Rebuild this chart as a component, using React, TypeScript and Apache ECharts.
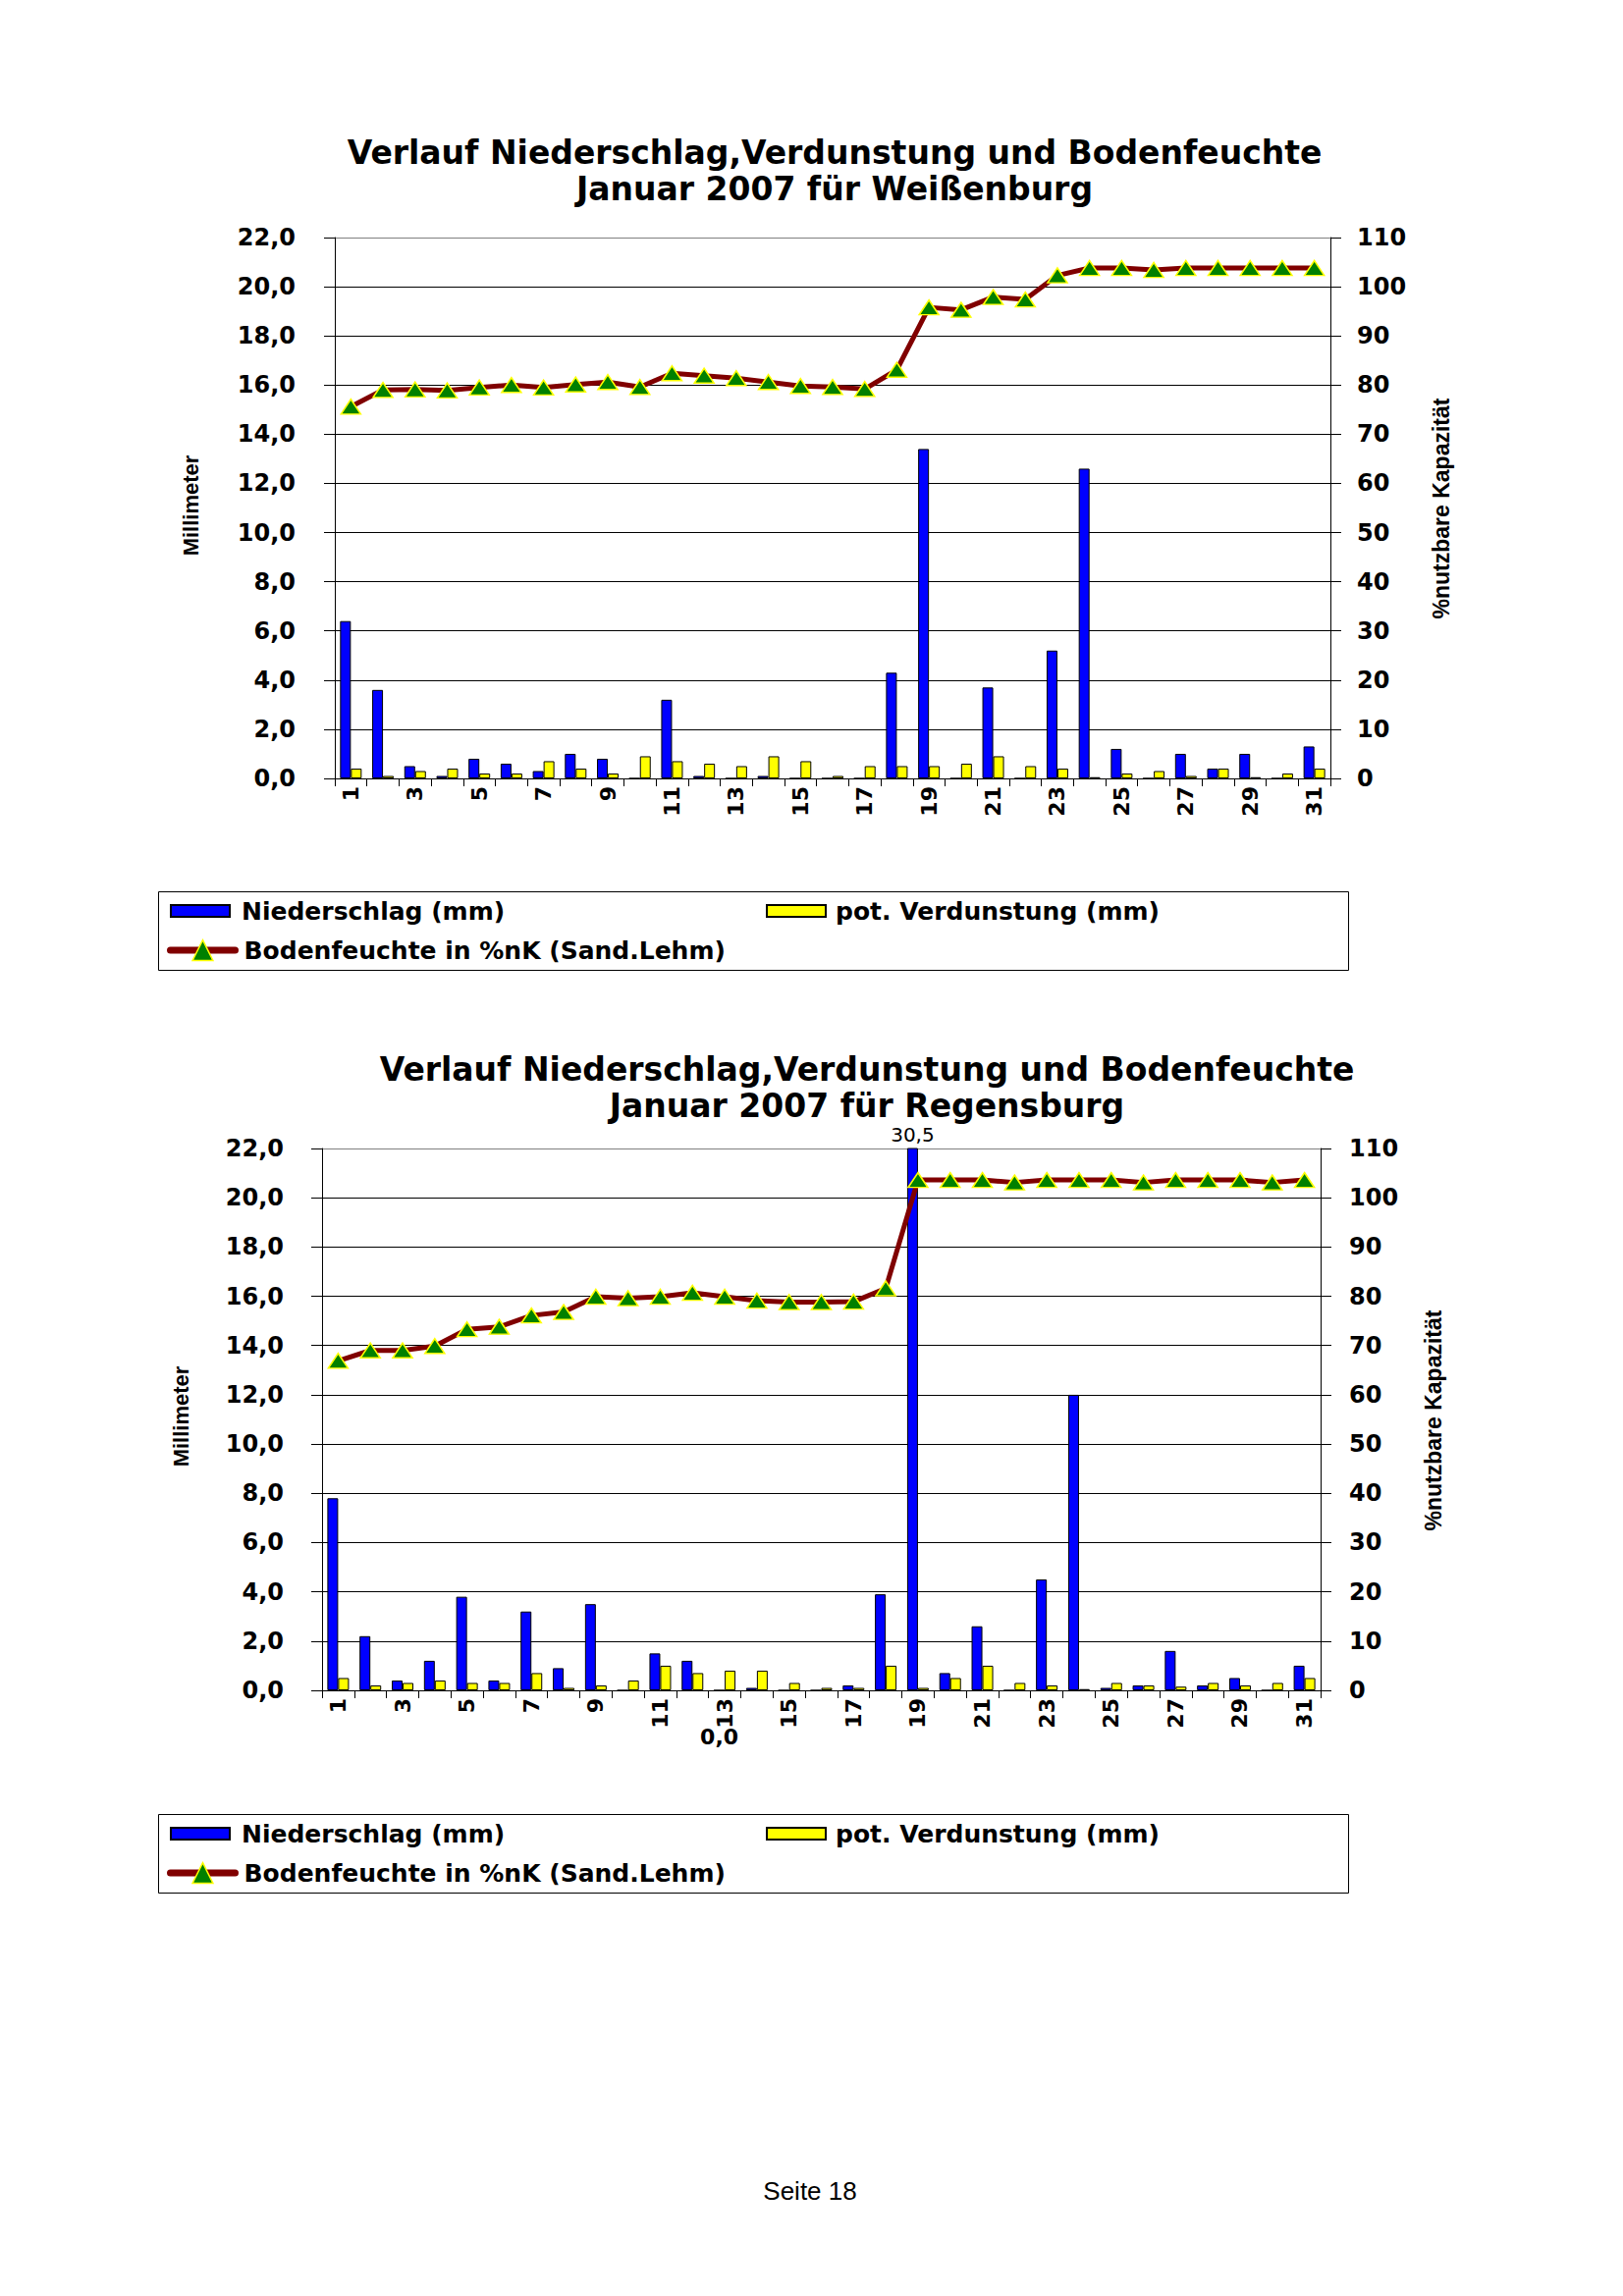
import React, { useEffect, useRef } from 'react';
import * as echarts from 'echarts';

// ---------- data ----------
const days = ['1', '2', '3', '4', '5', '6', '7', '8', '9', '10', '11', '12', '13', '14', '15', '16',
  '17', '18', '19', '20', '21', '22', '23', '24', '25', '26', '27', '28', '29', '30', '31'];

// Weißenburg
const wbgPrecip = [6.4, 3.6, 0.5, 0.1, 0.8, 0.6, 0.3, 1.0, 0.8, 0, 3.2, 0.1, 0, 0.1, 0, 0,
  0, 4.3, 13.4, 0, 3.7, 0, 5.2, 12.6, 1.2, 0, 1.0, 0.4, 1.0, 0, 1.3];
const wbgEvap = [0.4, 0.1, 0.3, 0.4, 0.2, 0.2, 0.7, 0.4, 0.2, 0.9, 0.7, 0.6, 0.5, 0.9, 0.7, 0.1,
  0.5, 0.5, 0.5, 0.6, 0.9, 0.5, 0.4, 0.05, 0.2, 0.3, 0.1, 0.4, 0.05, 0.2, 0.4];
const wbgMoist = [75.6, 79.0, 79.1, 78.9, 79.5, 80.0, 79.5, 80.1, 80.6, 79.6, 82.4, 81.9, 81.4, 80.6,
  79.8, 79.6, 79.2, 83.1, 95.8, 95.3, 97.9, 97.4, 102.3, 103.8, 103.8, 103.4, 103.8, 103.8, 103.8,
  103.8, 103.8];
const wbgZeroLabelDays: string[] = [];

// Regensburg
const rgbPrecip = [7.8, 2.2, 0.4, 1.2, 3.8, 0.4, 3.2, 0.9, 3.5, 0, 1.5, 1.2, 0, 0.1, 0, 0,
  0.2, 3.9, 30.5, 0.7, 2.6, 0, 4.5, 12.0, 0.1, 0.2, 1.6, 0.2, 0.5, 0, 1.0];
const rgbEvap = [0.5, 0.2, 0.3, 0.4, 0.3, 0.3, 0.7, 0.1, 0.2, 0.4, 1.0, 0.7, 0.8, 0.8, 0.3, 0.1,
  0.1, 1.0, 0.1, 0.5, 1.0, 0.3, 0.2, 0.05, 0.3, 0.2, 0.15, 0.3, 0.2, 0.3, 0.5];
const rgbMoist = [66.9, 69.0, 69.0, 69.9, 73.3, 73.8, 76.1, 76.8, 79.9, 79.6, 79.9, 80.7, 79.9, 79.1,
  78.8, 78.8, 78.9, 81.6, 103.6, 103.6, 103.6, 103.1, 103.6, 103.6, 103.6, 103.1, 103.6, 103.6, 103.6,
  103.1, 103.6];
const rgbZeroLabelDays = ['13'];

const mmAxis = { min: 0, max: 22, interval: 2 };
const pctAxis = { min: 0, max: 110, interval: 10 };

const titleWbg = 'Verlauf Niederschlag,Verdunstung und Bodenfeuchte\nJanuar 2007 für Weißenburg';
const titleRgb = 'Verlauf Niederschlag,Verdunstung und Bodenfeuchte\nJanuar 2007 für Regensburg';
const nameP = 'Niederschlag (mm)';
const nameE = 'pot. Verdunstung (mm)';
const nameM = 'Bodenfeuchte in %nK (Sand.Lehm)';
const leftAxisName = 'Millimeter';
const rightAxisName = '%nutzbare Kapazität';
const pageLabel = 'Seite 18';

// ---------- styling / layout ----------
const WIDE = 'DejaVu Sans';
const ARIAL = 'Liberation Sans';
const fmt = (v: number) => v.toFixed(1).replace('.', ',');

const panels = [
  {
    title: titleWbg, titleX: 850, titleY: 137,
    grid: { left: 341, top: 242, width: 1014, height: 551 },
    precip: wbgPrecip, evap: wbgEvap, moist: wbgMoist, zeroLabels: wbgZeroLabelDays,
    mL: 40, mR: 27, nameL: [194, 515], nameR: [1468, 518], legendTop: 909,
  },
  {
    title: titleRgb, titleX: 883, titleY: 1071,
    grid: { left: 328, top: 1170, width: 1017, height: 552 },
    precip: rgbPrecip, evap: rgbEvap, moist: rgbMoist, zeroLabels: rgbZeroLabelDays,
    mL: 39, mR: 29, nameL: [184, 1443], nameR: [1460, 1447], legendTop: 1849,
  },
];

function buildOption() {
  const grid: any[] = [];
  const xAxis: any[] = [];
  const yAxis: any[] = [];
  const series: any[] = [];
  const legend: any[] = [];
  const title: any[] = [];
  const graphic: any[] = [];

  const splitColors: string[] = [];
  const nLines = Math.round((mmAxis.max - mmAxis.min) / mmAxis.interval) + 1;
  for (let k = 0; k < nLines; k++) splitColors.push(k === nLines - 1 ? '#808080' : '#000000');

  const legendText = (padLeft: number) => ({
    fontFamily: WIDE, fontWeight: 'bold', fontSize: 25, lineHeight: 28,
    color: '#000', padding: [0, 0, 0, padLeft],
  });

  panels.forEach((p, i) => {
    title.push({
      text: p.title, left: p.titleX, top: p.titleY, textAlign: 'center', padding: 0,
      textStyle: { fontFamily: WIDE, fontWeight: 'bold', fontSize: 33, lineHeight: 37, color: '#000' },
    });

    grid.push({ ...p.grid, show: false, containLabel: false, outerBoundsMode: 'none' });

    xAxis.push({
      type: 'category', gridIndex: i, data: days, boundaryGap: true,
      axisLine: { show: true, onZero: false, lineStyle: { color: '#000', width: 1 } },
      axisTick: { show: true, interval: 0, length: 8, lineStyle: { color: '#000', width: 1 } },
      axisLabel: {
        show: true, interval: 1, rotate: 90, margin: 8, color: '#000',
        fontFamily: WIDE, fontWeight: 'bold', fontSize: 22,
      },
      splitLine: { show: false },
    });

    yAxis.push({
      type: 'value', gridIndex: i, position: 'left', ...mmAxis,
      axisLine: { show: true, lineStyle: { color: '#000', width: 1 } },
      axisTick: { show: true, length: 11, lineStyle: { color: '#000', width: 1 } },
      axisLabel: {
        margin: p.mL, color: '#000', fontFamily: WIDE, fontWeight: 'bold', fontSize: 24,
        formatter: (v: number) => fmt(v),
      },
      splitLine: { show: true, lineStyle: { color: splitColors, width: 1 } },
    });
    yAxis.push({
      type: 'value', gridIndex: i, position: 'right', ...pctAxis,
      axisLine: { show: true, lineStyle: { color: '#000', width: 1 } },
      axisTick: { show: true, length: 11, lineStyle: { color: '#000', width: 1 } },
      axisLabel: {
        margin: p.mR, color: '#000', fontFamily: WIDE, fontWeight: 'bold', fontSize: 24,
      },
      splitLine: { show: false },
    });

    const precipData = p.precip.map((v, d) => {
      if (v > mmAxis.max) {
        return {
          value: v,
          label: {
            show: true, position: 'top', distance: 4, formatter: fmt(v),
            fontFamily: WIDE, fontSize: 20, color: '#000',
          },
        };
      }
      if (p.zeroLabels.includes(days[d])) {
        return {
          value: v,
          label: {
            show: true, position: 'bottom', distance: 36, formatter: fmt(v),
            fontFamily: WIDE, fontWeight: 'bold', fontSize: 22, color: '#000',
          },
        };
      }
      return v;
    });

    series.push({
      type: 'bar', name: nameP, xAxisIndex: i, yAxisIndex: 2 * i, data: precipData,
      barWidth: 11, barGap: '0%', clip: true,
      itemStyle: { color: '#0000FF', borderColor: '#000000', borderWidth: 1 },
      emphasis: { disabled: true },
    });
    series.push({
      type: 'bar', name: nameE, xAxisIndex: i, yAxisIndex: 2 * i, data: p.evap,
      barWidth: 11, barGap: '0%', clip: true,
      itemStyle: { color: '#FFFF00', borderColor: '#000000', borderWidth: 1 },
      emphasis: { disabled: true },
    });
    series.push({
      type: 'line', name: nameM, xAxisIndex: i, yAxisIndex: 2 * i + 1, data: p.moist,
      z: 5, symbol: 'triangle', symbolSize: [20, 15], showSymbol: true, showAllSymbol: true,
      lineStyle: { color: '#800000', width: 5, join: 'round', cap: 'round' },
      itemStyle: { color: '#008000', borderColor: '#FFFF00', borderWidth: 1.5 },
      emphasis: { disabled: true },
    });

    const lt = p.legendTop;
    legend.push({
      data: [nameP], left: 173, top: lt + 19 - 14, padding: 0, icon: 'rect',
      itemWidth: 60, itemHeight: 12, selectedMode: false, textStyle: legendText(7),
    });
    legend.push({
      data: [nameE], left: 780, top: lt + 19 - 14, padding: 0, icon: 'rect',
      itemWidth: 60, itemHeight: 12, selectedMode: false, textStyle: legendText(5),
    });
    legend.push({
      data: [nameM], left: 170, top: lt + 59 - 14, padding: 0,
      itemWidth: 66, itemHeight: 26, selectedMode: false, textStyle: legendText(4),
      lineStyle: { width: 7, color: '#800000', cap: 'round' },
      itemStyle: { color: '#008000', borderColor: '#FFFF00', borderWidth: 1.5 },
    });

    graphic.push({
      type: 'rect', silent: true,
      shape: { x: 161.5, y: lt - 0.5, width: 1212, height: 80 },
      style: { fill: 'none', stroke: '#000', lineWidth: 1 },
    });
    graphic.push({
      type: 'text', x: p.nameL[0], y: p.nameL[1], rotation: Math.PI / 2, silent: true,
      style: {
        text: leftAxisName, fontFamily: ARIAL, fontWeight: 'bold', fontSize: 22, fill: '#000',
        align: 'center', verticalAlign: 'middle', textAlign: 'center', textVerticalAlign: 'middle',
      },
    });
    graphic.push({
      type: 'text', x: p.nameR[0], y: p.nameR[1], rotation: Math.PI / 2, silent: true,
      style: {
        text: rightAxisName, fontFamily: ARIAL, fontWeight: 'bold', fontSize: 23, fill: '#000',
        align: 'center', verticalAlign: 'middle', textAlign: 'center', textVerticalAlign: 'middle',
      },
    });
  });

  graphic.push({
    type: 'text', x: 825, y: 2232, silent: true,
    style: {
      text: pageLabel, fontFamily: ARIAL, fontSize: 26, fill: '#000',
      align: 'center', verticalAlign: 'middle', textAlign: 'center', textVerticalAlign: 'middle',
    },
  });

  return {
    animation: false,
    backgroundColor: '#ffffff',
    textStyle: { fontFamily: WIDE, color: '#000' },
    title, grid, xAxis, yAxis, series, legend, graphic,
    tooltip: { show: false },
  };
}

export default function App() {
  const ref = useRef<HTMLDivElement>(null);
  useEffect(() => {
    if (!ref.current) return;
    const chart = echarts.init(ref.current, null, { renderer: 'svg' });
    chart.setOption(buildOption() as any);
    return () => chart.dispose();
  }, []);
  return (
    <div
      ref={ref}
      style={{ position: 'absolute', left: 0, top: 0, width: 1653, height: 2339, background: '#fff' }}
    />
  );
}
